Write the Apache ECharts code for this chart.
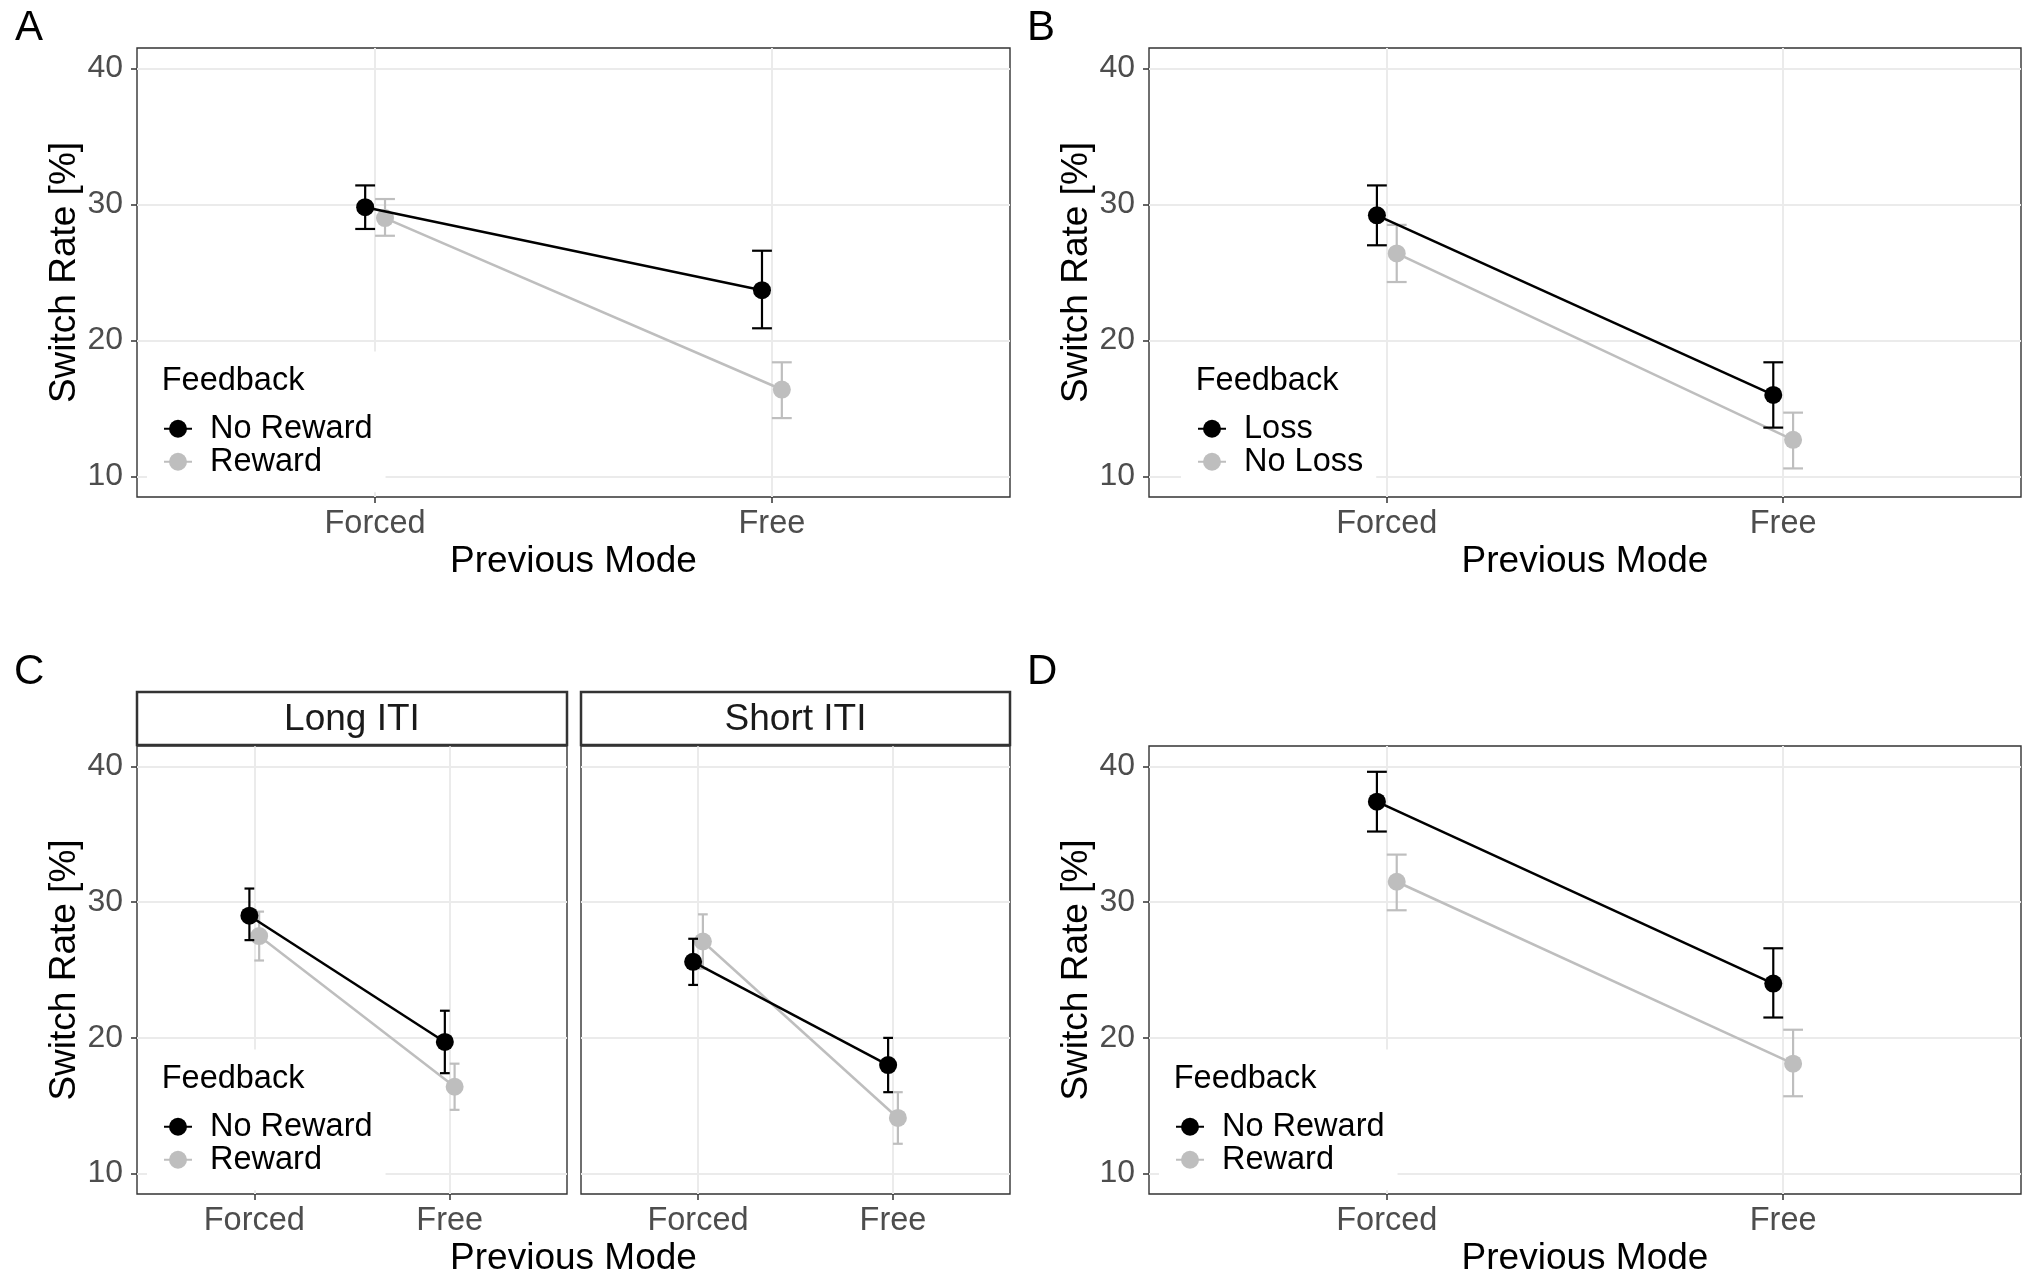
<!DOCTYPE html>
<html>
<head>
<meta charset="utf-8">
<script src="https://cdn.jsdelivr.net/npm/echarts@6/dist/echarts.min.js"></script>
<style>
html,body{margin:0;padding:0;background:#fff;}
#chart{width:2030px;height:1280px;}
</style>
</head>
<body>
<div id="chart"></div>
<script>
// ---------- data ----------
const modes = ['Forced', 'Free'];
const modePositions = [1, 2];
const yTicks = [10, 20, 30, 40];

// Panel A : Feedback No Reward / Reward
const aNoRewardMean = [29.8, 23.7];
const aNoRewardLow  = [28.2, 20.9];
const aNoRewardHigh = [31.4, 26.6];
const aRewardMean   = [29.0, 16.4];
const aRewardLow    = [27.7, 14.3];
const aRewardHigh   = [30.4, 18.4];

// Panel B : Feedback Loss / No Loss
const bLossMean     = [29.2, 16.0];
const bLossLow      = [27.0, 13.6];
const bLossHigh     = [31.4, 18.4];
const bNoLossMean   = [26.4, 12.7];
const bNoLossLow    = [24.3, 10.6];
const bNoLossHigh   = [28.5, 14.7];

// Panel C : Long ITI
const cLongNoRewardMean = [29.0, 19.7];
const cLongNoRewardLow  = [27.2, 17.4];
const cLongNoRewardHigh = [31.0, 22.0];
const cLongRewardMean   = [27.5, 16.4];
const cLongRewardLow    = [25.7, 14.7];
const cLongRewardHigh   = [29.3, 18.1];
// Panel C : Short ITI
const cShortNoRewardMean = [25.6, 18.0];
const cShortNoRewardLow  = [23.9, 16.0];
const cShortNoRewardHigh = [27.3, 20.0];
const cShortRewardMean   = [27.1, 14.1];
const cShortRewardLow    = [25.1, 12.2];
const cShortRewardHigh   = [29.1, 16.0];

// Panel D
const dNoRewardMean = [37.4, 24.0];
const dNoRewardLow  = [35.2, 21.5];
const dNoRewardHigh = [39.6, 26.6];
const dRewardMean   = [31.5, 18.1];
const dRewardLow    = [29.4, 15.7];
const dRewardHigh   = [33.5, 20.6];

// ---------- style / layout ----------
const FONT = '"Liberation Sans", Arial, Helvetica, sans-serif';
const BLACK = '#000000';
const GREY = '#BEBEBE';
const DODGE = 0.025;      // position_dodge half width (data units)
const CAP = 0.025;        // errorbar half width (data units)
const X_MIN = 0.4, X_MAX = 2.6;
const Y_MIN = 8.5, Y_MAX = 41.5;

const grids = [
  {left: 137,  top: 48,  width: 873, height: 449},  // A
  {left: 1149, top: 48,  width: 872, height: 449},  // B
  {left: 137,  top: 746, width: 430, height: 448},  // C long
  {left: 581,  top: 746, width: 429, height: 448},  // C short
  {left: 1149, top: 746, width: 872, height: 448}   // D
];

function xAxisFor(gi, withName) {
  return {
    type: 'value', gridIndex: gi, min: X_MIN, max: X_MAX,
    name: withName ? 'Previous Mode' : '',
    nameLocation: 'middle', nameGap: 46.5,
    nameTextStyle: {fontSize: 37, fontFamily: FONT, color: '#000'},
    axisLine: {show: false},
    axisTick: {show: true, customValues: modePositions, length: 6, lineStyle: {color: '#333', width: 1.5}},
    axisLabel: {show: true, customValues: modePositions, margin: 10.5,
      formatter: v => modes[Math.round(v) - 1] || '',
      fontSize: 32.5, fontFamily: FONT, color: '#4D4D4D'},
    splitLine: {show: true, lineStyle: {color: '#EBEBEB', width: 2}}
  };
}
function yAxisFor(gi, showLabels) {
  return {
    type: 'value', gridIndex: gi, min: Y_MIN, max: Y_MAX,
    name: showLabels ? 'Switch Rate [%]' : '',
    nameLocation: 'middle', nameGap: 54,
    nameTextStyle: {fontSize: 37, fontFamily: FONT, color: '#000'},
    axisLine: {show: false},
    axisTick: {show: showLabels, customValues: yTicks, length: 6, lineStyle: {color: '#333', width: 1.5}},
    axisLabel: {show: showLabels, customValues: yTicks, margin: 14,
      fontSize: 32, fontFamily: FONT, color: '#4D4D4D'},
    splitLine: {show: true, lineStyle: {color: '#EBEBEB', width: 2}}
  };
}

function errRender(color) {
  return function (params, api) {
    const x = api.value(0), lo = api.value(1), hi = api.value(2);
    const pLo = api.coord([x, lo]);
    const pHi = api.coord([x, hi]);
    const xl = api.coord([x - CAP, hi])[0];
    const xr = api.coord([x + CAP, hi])[0];
    const st = {stroke: color, lineWidth: 2.2};
    return {type: 'group', children: [
      {type: 'line', shape: {x1: pLo[0], y1: pLo[1], x2: pHi[0], y2: pHi[1]}, style: st},
      {type: 'line', shape: {x1: xl, y1: pHi[1], x2: xr, y2: pHi[1]}, style: st},
      {type: 'line', shape: {x1: xl, y1: pLo[1], x2: xr, y2: pLo[1]}, style: st}
    ]};
  };
}

const series = [];
function addGroup(gi, name, mean, lo, hi, color, side, zBase) {
  const xs = modePositions.map(p => p + side * DODGE);
  series.push({
    type: 'custom', name: name + ' (SE)', xAxisIndex: gi, yAxisIndex: gi,
    renderItem: errRender(color), silent: true, z: zBase,
    encode: {x: 0, y: [1, 2]},
    data: xs.map((x, i) => [x, lo[i], hi[i]])
  });
  series.push({
    type: 'line', name: name, xAxisIndex: gi, yAxisIndex: gi, z: zBase + 1,
    symbol: 'circle', symbolSize: 18, showSymbol: true, silent: true,
    itemStyle: {color: color}, lineStyle: {color: color, width: 2.5},
    data: xs.map((x, i) => [x, mean[i]])
  });
}

// grey groups first, black on top
addGroup(0, 'Reward',    aRewardMean,   aRewardLow,   aRewardHigh,   GREY,  1, 2);
addGroup(0, 'No Reward', aNoRewardMean, aNoRewardLow, aNoRewardHigh, BLACK, -1, 4);
addGroup(1, 'No Loss',   bNoLossMean,   bNoLossLow,   bNoLossHigh,   GREY,  1, 2);
addGroup(1, 'Loss',      bLossMean,     bLossLow,     bLossHigh,     BLACK, -1, 4);
addGroup(2, 'Reward',    cLongRewardMean,   cLongRewardLow,   cLongRewardHigh,   GREY,  1, 2);
addGroup(2, 'No Reward', cLongNoRewardMean, cLongNoRewardLow, cLongNoRewardHigh, BLACK, -1, 4);
addGroup(3, 'Reward',    cShortRewardMean,   cShortRewardLow,   cShortRewardHigh,   GREY,  1, 2);
addGroup(3, 'No Reward', cShortNoRewardMean, cShortNoRewardLow, cShortNoRewardHigh, BLACK, -1, 4);
addGroup(4, 'Reward',    dRewardMean,   dRewardLow,   dRewardHigh,   GREY,  1, 2);
addGroup(4, 'No Reward', dNoRewardMean, dNoRewardLow, dNoRewardHigh, BLACK, -1, 4);

function legendFor(names, left, top) {
  return {
    data: names, left: left, top: top, orient: 'vertical',
    backgroundColor: '#ffffff', padding: [60.75, 13, 14, 16],
    itemWidth: 28, itemHeight: 22.5, itemGap: 0, selectedMode: false, z: 10,
    textStyle: {fontSize: 32.5, fontFamily: FONT, color: '#000', padding: [0, 0, 0, 13]}
  };
}
const legendPos = [
  {names: ['No Reward', 'Reward'], left: 147,  top: 351.5},
  {names: ['Loss', 'No Loss'],     left: 1181, top: 351.5},
  {names: ['No Reward', 'Reward'], left: 147,  top: 1049.5},
  {names: ['No Reward', 'Reward'], left: 1159, top: 1049.5}
];

const graphics = [];
function label(text, x, y, size, color, align) {
  graphics.push({type: 'text', z: 100, style: {text: text, x: x, y: y, fontSize: size,
    fontFamily: FONT, fill: color, align: align || 'left', verticalAlign: 'middle'}});
}
label('A', 15, 28, 42, '#000');
label('B', 1027, 28, 42, '#000');
label('C', 14, 672, 42, '#000');
label('D', 1027, 672, 42, '#000');
legendPos.forEach(l => label('Feedback', l.left + 14.7, l.top + 29.5, 32.5, '#000'));

// facet strips for panel C
const strips = [
  {text: 'Long ITI', g: grids[2]},
  {text: 'Short ITI', g: grids[3]}
];
strips.forEach(s => {
  graphics.push({type: 'rect', z: 50, shape: {x: s.g.left, y: 692, width: s.g.width, height: 53},
    style: {fill: '#ffffff', stroke: '#333333', lineWidth: 2.5}});
  label(s.text, s.g.left + s.g.width / 2, 719.5, 37, '#1A1A1A', 'center');
});
// shared x title of panel C
label('Previous Mode', (grids[2].left + grids[3].left + grids[3].width) / 2, 1258.5, 37, '#000', 'center');

const option = {
  backgroundColor: '#ffffff',
  animation: false,
  textStyle: {fontFamily: FONT},
  grid: grids.map(g => Object.assign({show: true, borderColor: '#333333', borderWidth: 1.4,
    backgroundColor: 'transparent', containLabel: false}, g)),
  xAxis: [xAxisFor(0, true), xAxisFor(1, true), xAxisFor(2, false), xAxisFor(3, false), xAxisFor(4, true)],
  yAxis: [yAxisFor(0, true), yAxisFor(1, true), yAxisFor(2, true), yAxisFor(3, false), yAxisFor(4, true)],
  legend: legendPos.map(l => legendFor(l.names, l.left, l.top)),
  graphic: graphics,
  series: series
};

const chart = echarts.init(document.getElementById('chart'), null, {renderer: 'canvas'});
chart.setOption(option);
</script>
</body>
</html>
